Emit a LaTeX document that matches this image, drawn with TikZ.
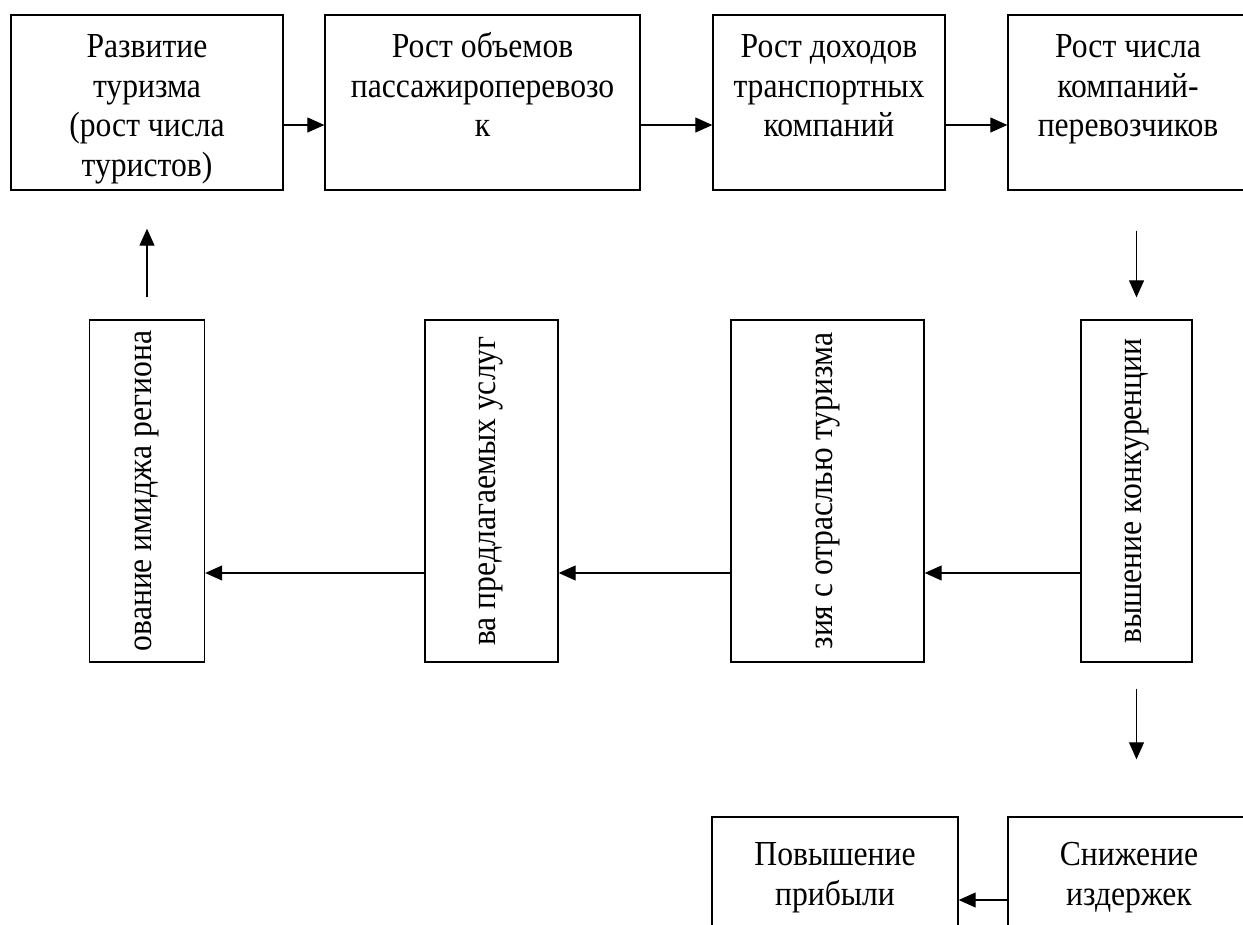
\documentclass[tikz,border=0pt]{standalone}
\usepackage{fontspec}
\setmainfont{Liberation Serif}[FakeStretch=0.9]
\usepackage{tikz}
\usetikzlibrary{arrows.meta,positioning}

\begin{document}
\begin{tikzpicture}[x=0.02cm, y=-0.02cm,
  box/.style={draw, line width=0.8pt, align=center, inner sep=0pt, font=\fontsize{20pt}{22.76pt}\selectfont},
  topbox/.style={box, align=flush center, text height=0.84cm, text depth=2.66cm},
  arr/.style={-{Triangle[length=3.4mm,width=3mm]}, line width=0.6pt}]
  \useasboundingbox (0,0) rectangle (1243,924);
  \clip (0,0) rectangle (1243,924); % only the visible part of the page
  % top row
  \node[topbox, text width=5.44cm] (razv) at (147,102.5) {Развитие\\туризма\\(рост числа\\туристов)};
  \node[topbox, text width=6.3cm] (obem) at (482.5,102.5) {Рост объемов\\пассажироперевозо\\к};
  \node[topbox, text width=4.64cm] (doh) at (829,102.5) {Рост доходов\\транспортных\\компаний};
  \node[topbox, text width=4.8cm] (chis) at (1128,102.5) {Рост числа\\компаний-\\перевозчиков};
  % middle row, rotated text
  \node[box, minimum width=2.3cm, minimum height=6.84cm] (imid) at (147,491) {\rotatebox{90}{ование имиджа региона}};
  \node[box, minimum width=2.66cm, minimum height=6.84cm] (kach) at (491.5,491) {\rotatebox{90}{ва предлагаемых услуг}};
  \node[box, minimum width=3.86cm, minimum height=6.84cm] (vzai) at (827.5,491) {\rotatebox{90}{зия с отраслью туризма}};
  \node[box, minimum width=2.22cm, minimum height=6.84cm] (konk) at (1136.5,491) {\rotatebox{90}{вышение конкуренции}};
  % bottom row
  \node[topbox, text height=0.96cm, text depth=2.54cm, text width=4.92cm] (prib) at (835,904.5) {Повышение\\прибыли};
  \node[topbox, text height=0.96cm, text depth=2.54cm, text width=4.84cm] (izd) at (1129,904.5) {Снижение\\издержек};

  \draw[arr] ([yshift=-0.45cm]razv.east) -- ([yshift=-0.45cm]obem.west);
  \draw[arr] ([yshift=-0.45cm]obem.east) -- ([yshift=-0.45cm]doh.west);
  \draw[arr] ([yshift=-0.45cm]doh.east) -- ([yshift=-0.45cm]chis.west);
  \draw[arr, shorten <=0.8cm, shorten >=0.44cm] (konk.north |- chis.south) -- (konk.north);
  \draw[arr] ([yshift=-1.64cm]konk.west) -- ([yshift=-1.64cm]vzai.east);
  \draw[arr] ([yshift=-1.64cm]vzai.west) -- ([yshift=-1.64cm]kach.east);
  \draw[arr] ([yshift=-1.64cm]kach.west) -- ([yshift=-1.64cm]imid.east);
  \draw[arr, shorten <=0.44cm, shorten >=0.76cm] (imid.north) -- (imid.north |- razv.south);
  \draw[arr, shorten <=0.52cm, shorten >=1.14cm] (konk.south) -- (konk.south |- izd.north);
  \draw[arr] ([yshift=0.09cm]izd.west) -- ([yshift=0.09cm]prib.east);
\end{tikzpicture}
\end{document}
